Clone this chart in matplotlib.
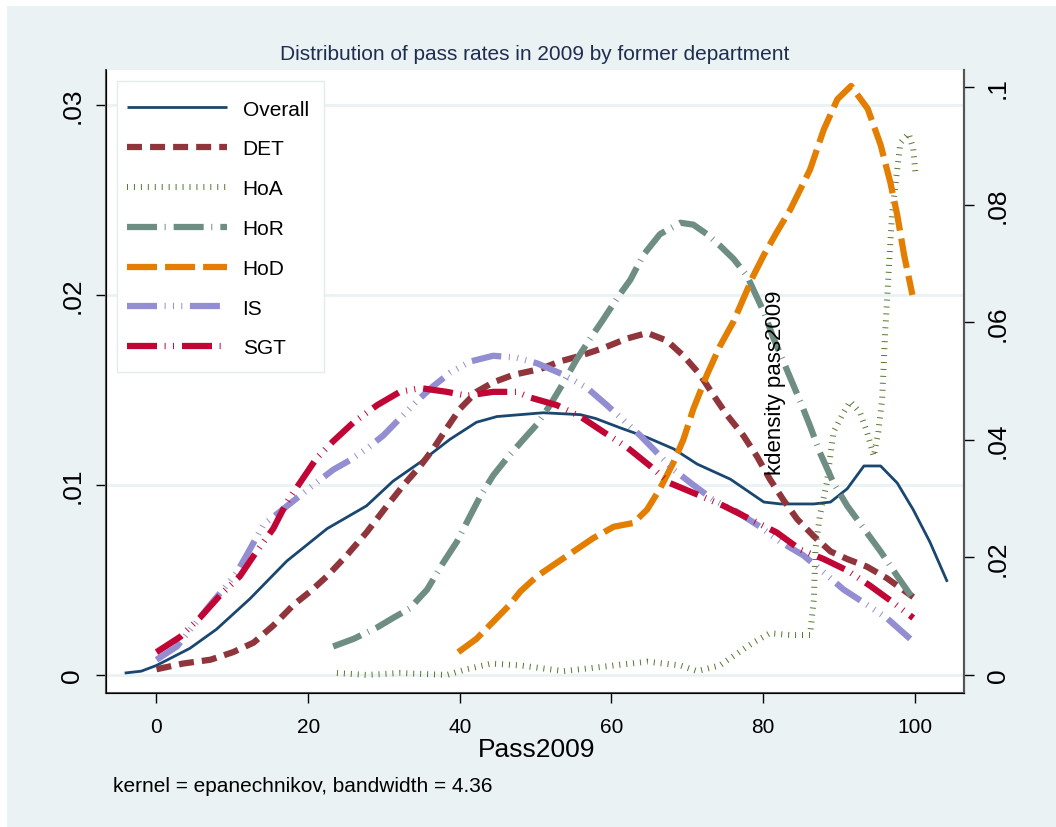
import matplotlib
matplotlib.use("Agg")
import matplotlib.pyplot as plt
from matplotlib.patches import Rectangle

plt.rcParams['font.family'] = ['Liberation Sans', 'DejaVu Sans']
plt.rcParams['lines.scale_dashes'] = False

# kernel density estimates (x = Pass2009, y = density)
overall_x = [-4.2, -2.0, 0.0, 4.4, 7.9, 12.3, 17.2, 22.5, 27.7, 31.2, 34.8, 38.7, 42.2, 44.9,
             51.0, 55.9, 57.9, 61.2, 64.7, 68.2, 71.3, 75.7, 80.1, 82.3, 86.7, 88.9, 91.1,
             93.3, 95.5, 97.7, 99.8, 102.0, 104.3]
overall_y = [0.0001, 0.0002, 0.0005, 0.0014, 0.0024, 0.0040, 0.0060, 0.0077, 0.0089, 0.0102,
             0.0112, 0.0124, 0.0133, 0.0136, 0.0138, 0.0137, 0.0135, 0.0130, 0.0125, 0.0119,
             0.0111, 0.0103, 0.0091, 0.0090, 0.0090, 0.0091, 0.0098, 0.0110, 0.0110, 0.0101,
             0.0087, 0.0070, 0.0049]

det_x = [0.0, 3.5, 7.1, 10.1, 12.8, 15.4, 18.1, 20.3, 22.5, 25.1, 27.7, 30.4, 32.6, 34.8, 36.5,
         38.3, 40.0, 42.2, 44.4, 47.1, 50.6, 53.2, 55.9, 58.9, 62.0, 64.7, 67.3, 69.5, 71.7,
         73.5, 75.2, 77.4, 79.2, 80.9, 82.7, 84.5, 86.7, 88.9, 91.1, 93.7, 96.3, 99.8]
det_y = [0.0003, 0.0006, 0.0008, 0.0012, 0.0017, 0.0026, 0.0037, 0.0044, 0.0052, 0.0063,
         0.0075, 0.0089, 0.0100, 0.0110, 0.0119, 0.0130, 0.0140, 0.0149, 0.0154, 0.0158,
         0.0161, 0.0165, 0.0168, 0.0172, 0.0177, 0.0180, 0.0176, 0.0168, 0.0158, 0.0147,
         0.0137, 0.0126, 0.0115, 0.0103, 0.0092, 0.0082, 0.0073, 0.0065, 0.0061, 0.0057,
         0.0051, 0.0041]

hoa_x = [23.8, 27.7, 32.1, 38.3, 40.9, 44.2, 48.0, 53.7, 60.3, 64.7, 69.1, 71.3, 74.3, 76.1,
         78.7, 80.9, 83.6, 86.2, 86.7, 86.9, 87.5, 88.4, 89.3, 90.6, 91.5, 92.8, 93.7, 94.6,
         95.2, 95.7, 96.1, 96.6, 97.0, 98.1, 99.2, 99.8, 100.1]
hoa_y = [0.0001, 0.0000, 0.0001, 0.0000, 0.0003, 0.0006, 0.0005, 0.0002, 0.0005, 0.0007,
         0.0005, 0.0002, 0.0005, 0.0010, 0.0017, 0.0022, 0.0021, 0.0021, 0.0040, 0.0066,
         0.0084, 0.0101, 0.0128, 0.0138, 0.0144, 0.0138, 0.0128, 0.0115, 0.0128, 0.0145,
         0.0180, 0.0215, 0.0242, 0.0280, 0.0285, 0.0277, 0.0264]

hor_x = [23.3, 26.0, 29.1, 31.2, 33.4, 35.7, 37.8, 39.6, 41.4, 42.7, 44.4, 46.2, 48.4, 50.2,
         51.9, 53.7, 55.4, 57.2, 58.9, 60.7, 62.5, 64.2, 66.4, 69.1, 70.8, 72.6, 74.3, 76.1,
         77.9, 78.7, 80.1, 81.4, 83.1, 84.9, 86.2, 87.5, 89.3, 91.1, 93.3, 95.5, 97.7, 99.8]
hor_y = [0.0015, 0.0019, 0.0025, 0.0030, 0.0035, 0.0045, 0.0059, 0.0070, 0.0084, 0.0094,
         0.0105, 0.0114, 0.0124, 0.0132, 0.0142, 0.0154, 0.0166, 0.0177, 0.0187, 0.0198,
         0.0208, 0.0221, 0.0232, 0.0238, 0.0237, 0.0232, 0.0226, 0.0219, 0.0210, 0.0203,
         0.0191, 0.0177, 0.0161, 0.0144, 0.0131, 0.0117, 0.0101, 0.0089, 0.0077, 0.0065,
         0.0052, 0.0040]

hod_x = [39.8, 42.2, 44.4, 46.6, 48.0, 50.2, 52.4, 55.0, 57.6, 60.3, 62.9, 64.7, 66.4, 68.2,
         69.5, 70.8, 72.6, 74.3, 76.1, 77.4, 78.7, 80.1, 81.8, 83.6, 86.2, 88.0, 89.8, 91.6,
         93.8, 95.5, 96.8, 97.7, 98.6, 99.7]
hod_y = [0.0012, 0.0019, 0.0028, 0.0037, 0.0044, 0.0052, 0.0058, 0.0065, 0.0072, 0.0078,
         0.0080, 0.0087, 0.0098, 0.0112, 0.0124, 0.0140, 0.0158, 0.0173, 0.0186, 0.0198,
         0.0210, 0.0221, 0.0233, 0.0245, 0.0266, 0.0287, 0.0303, 0.0310, 0.0298, 0.0279,
         0.0259, 0.0242, 0.0221, 0.0200]

is_x = [0.0, 2.7, 4.9, 7.1, 8.8, 10.6, 12.3, 14.1, 16.3, 18.5, 20.7, 23.3, 25.5, 27.7, 29.9,
        32.1, 34.3, 36.5, 38.7, 41.4, 44.4, 47.5, 50.2, 53.7, 56.8, 59.4, 61.6, 63.8, 66.0,
        68.2, 70.8, 73.5, 76.5, 79.6, 82.3, 85.3, 88.0, 90.6, 93.3, 96.3, 99.4]
is_y = [0.0008, 0.0015, 0.0026, 0.0037, 0.0045, 0.0054, 0.0066, 0.0079, 0.0086, 0.0093,
        0.0100, 0.0108, 0.0113, 0.0119, 0.0126, 0.0135, 0.0144, 0.0152, 0.0159, 0.0165,
        0.0168, 0.0167, 0.0164, 0.0158, 0.0151, 0.0142, 0.0134, 0.0126, 0.0117, 0.0108,
        0.0100, 0.0092, 0.0086, 0.0078, 0.0070, 0.0063, 0.0054, 0.0045, 0.0038, 0.0030,
        0.0019]

sgt_x = [0.0, 3.1, 5.7, 8.4, 11.0, 13.2, 15.4, 17.2, 18.9, 21.1, 23.3, 26.0, 29.1, 32.1, 34.8,
         38.3, 40.9, 44.4, 47.5, 49.3, 52.8, 55.9, 58.9, 62.0, 65.1, 67.7, 71.3, 74.8, 78.3,
         81.8, 84.9, 88.0, 91.1, 94.1, 97.2, 99.8]
sgt_y = [0.0012, 0.0020, 0.0030, 0.0042, 0.0052, 0.0065, 0.0077, 0.0091, 0.0101, 0.0114,
         0.0123, 0.0133, 0.0142, 0.0149, 0.0151, 0.0149, 0.0147, 0.0149, 0.0149, 0.0146,
         0.0142, 0.0136, 0.0128, 0.0120, 0.0110, 0.0101, 0.0095, 0.0089, 0.0082, 0.0075,
         0.0066, 0.0061, 0.0055, 0.0047, 0.0038, 0.0030]

labels = ['Overall', 'DET', 'HoA', 'HoR', 'HoD', 'IS', 'SGT']
colors = ['#1a476f', '#90353b', '#55752f', '#6e8e84', '#e37e00', '#938dd2', '#c10534']

xticks = [0, 20, 40, 60, 80, 100]
yticks_left = [0, 0.01, 0.02, 0.03]
ylabels_left = ['0', '.01', '.02', '.03']
yticks_right = [0, 0.02, 0.04, 0.06, 0.08, 0.1]
ylabels_right = ['0', '.02', '.04', '.06', '.08', '.1']

# dash patterns in points (on, off, ...)
dashes = [None,
          (10.8, 5.8),
          (0.7, 4.3),
          (21.6, 5.5, 0.7, 5.8),
          (21.6, 5.8),
          (21.6, 5.5, 0.7, 5.3, 0.7, 5.3, 0.7, 5.5),
          (21.6, 5.5, 0.7, 5.3, 0.7, 5.8)]
widths = [2.0, 4.5, 4.3, 4.5, 4.5, 4.5, 4.5]

W, H = 1056, 828
fig = plt.figure(figsize=(W / 100, H / 100), dpi=100)
fig.patch.set_facecolor('white')
fig.patches.append(Rectangle((7 / W, 0), 1 - 7 / W, 1 - 7 / H, transform=fig.transFigure,
                             facecolor='#eaf2f3', edgecolor='none', zorder=-10))

ax = fig.add_axes([106 / W, 1 - 694 / H, (964 - 106) / W, (694 - 71) / H])
ax.set_facecolor('white')

series = [(overall_x, overall_y), (det_x, det_y), (hoa_x, hoa_y), (hor_x, hor_y),
          (hod_x, hod_y), (is_x, is_y), (sgt_x, sgt_y)]
for (xs, ys), lab, c, d, w in zip(series, labels, colors, dashes, widths):
    line, = ax.plot(xs, ys, color=c, lw=w, label=lab, solid_capstyle='butt',
                    dash_capstyle='butt', solid_joinstyle='round')
    if d is not None:
        line.set_dashes(d)

ax.set_xlim(-6.66, 106.5)
ylo, yhi = -0.00095, 0.03184
ax.set_ylim(ylo, yhi)
ax.set_xticks(xticks)
ax.set_xticklabels([str(t) for t in xticks], fontsize=15)
ax.set_yticks(yticks_left)
ax.set_yticklabels(ylabels_left, fontsize=19, rotation=90, va='center')
ax.grid(axis='y', color='#eaf2f3', lw=2)
ax.set_axisbelow(True)
ax.tick_params(axis='x', length=7.5, width=1, pad=10)
ax.tick_params(axis='y', length=7.5, width=1, pad=8)
ax.spines['top'].set_visible(False)
for s in ['left', 'bottom', 'right']:
    ax.spines[s].set_color('#555555')
    ax.spines[s].set_linewidth(1.5)

ax2 = ax.twinx()
ratio = 19000 / 5875
ax2.set_ylim(ylo * ratio, yhi * ratio)
ax2.set_yticks(yticks_right)
ax2.set_yticklabels(ylabels_right, fontsize=19, rotation=90, va='center')
ax2.tick_params(axis='y', length=7.5, width=1, pad=8)
ax2.spines['top'].set_visible(False)
ax2.spines['right'].set_color('#555555')
ax2.spines['right'].set_linewidth(1.5)

# legend box drawn separately so the padding can match the original
ax.add_patch(Rectangle((117 / W, 1 - 373 / H), (324 - 117) / W, (373 - 82) / H,
                       transform=fig.transFigure, facecolor='white', edgecolor='#e3ecee',
                       lw=1, zorder=4))
leg = ax.legend(loc='upper left', bbox_to_anchor=(127 / W, 1 - 100.5 / H),
                bbox_transform=fig.transFigure, fontsize=15, handlelength=4.8,
                handletextpad=0.75, labelspacing=1.0, borderpad=0, borderaxespad=0,
                frameon=False)
leg.set_zorder(5)

fig.text(535 / W, 1 - 55 / H, 'Distribution of pass rates in 2009 by former department',
         ha='center', va='center', fontsize=15, color='#1f2d50')
fig.text(537 / W, 1 - 750 / H, 'Pass2009', ha='center', va='center', fontsize=19)
fig.text(113 / W, 1 - 787 / H, 'kernel = epanechnikov, bandwidth = 4.36', ha='left',
         va='center', fontsize=15)
fig.text(775 / W, 1 - 383 / H, 'kdensity pass2009', ha='center', va='center',
         rotation=90, fontsize=16)

fig.savefig('out.png', dpi=100)
